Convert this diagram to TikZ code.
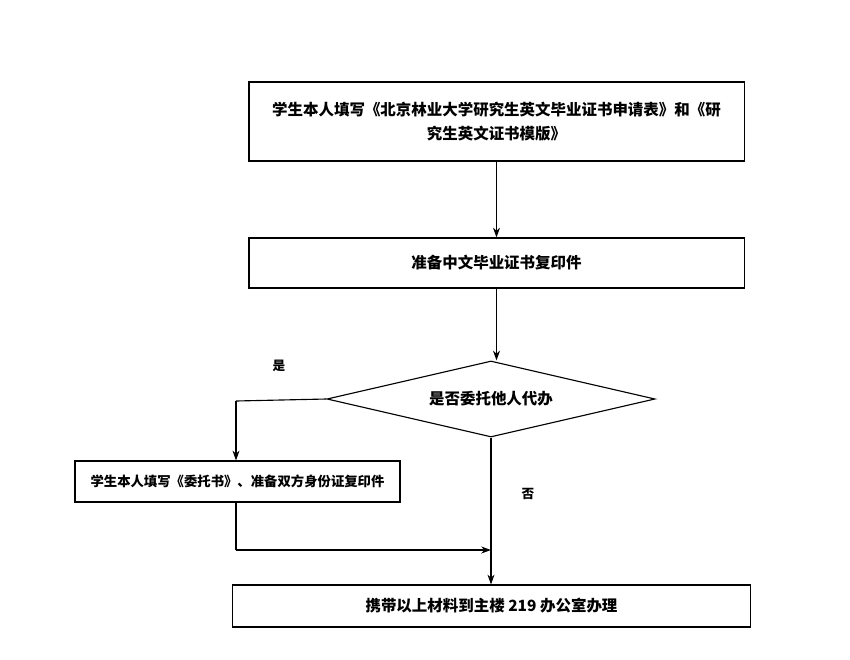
\documentclass[tikz,border=0pt]{standalone}
\usepackage{fontspec}
\newfontfamily\cjk{Noto Sans CJK SC}
\usetikzlibrary{arrows.meta,positioning,shapes.geometric}
\tikzset{
  stepbox/.style={draw, thick, minimum height=1.25cm, inner sep=2pt, align=center, font=\cjk\bfseries\fontsize{11}{17}\selectfont},
  flow/.style={thick, -{Stealth[length=7pt,width=5pt]}},
  plain/.style={thick}
}
\begin{document}
\begin{tikzpicture}[x=0.025cm, y=-0.025cm]
    \useasboundingbox (0,0) rectangle (850,659);
    % Steps
    \node[stepbox, minimum width=12.375cm, minimum height=1.975cm] (fill) at (496.5,121.5)
      {学生本人填写《北京林业大学研究生英文毕业证书申请表》和《研\\究生英文证书模版》};
    \node[stepbox, minimum width=12.375cm] (copy) at (496.5,263) {准备中文毕业证书复印件};
    \node[stepbox, diamond, aspect=4.3, minimum width=8.2cm, minimum height=1.9cm, inner sep=0pt] (ask) at (491,399) {是否委托他人代办};
    \node[stepbox, minimum width=8.125cm, minimum height=1.025cm, font=\cjk\bfseries\fontsize{9.5}{12}\selectfont] (proxy) at (237.5,481.5)
      {学生本人填写《委托书》、准备双方身份证复印件};
    \node[stepbox, minimum width=12.925cm, minimum height=1.05cm] (go) at (491.5,606) {携带以上材料到主楼 219 办公室办理};
    % Connectors
    \coordinate (turn) at (236,401);
    \coordinate (join) at (236,550);
    \coordinate (meet) at (491,550);
    \draw[flow] (fill.south -| copy) -- (copy);
    \draw[flow] (copy.south) -- (copy.south |- ask.north);
    \draw[plain] (ask.west) -- (turn);
    \draw[flow] (turn) -- (turn |- proxy.north);
    \draw[plain] (proxy.south -| turn) -- (join);
    \draw[flow] (join) -- (meet);
    \draw[flow] (ask.south) -- (go.north -| ask.south);
    % Labels
    \node[font=\cjk\bfseries\fontsize{9}{11}\selectfont] (yes) at (279,366) {是};
    \node[font=\cjk\bfseries\fontsize{9}{11}\selectfont] (no) at (528,494) {否};
\end{tikzpicture}
\end{document}
